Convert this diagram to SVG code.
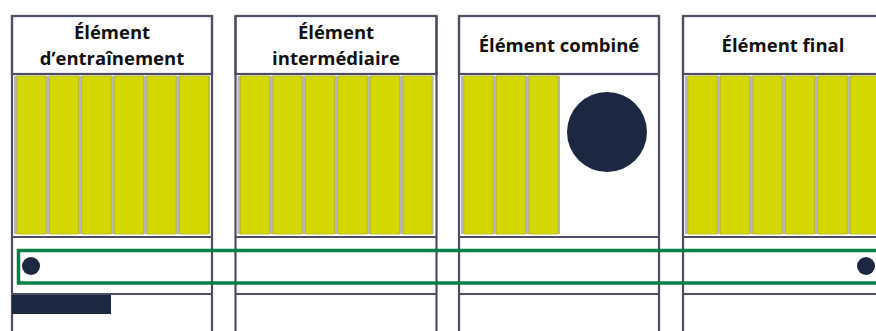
<svg xmlns="http://www.w3.org/2000/svg" width="876" height="331" viewBox="0 0 876 331">
  <defs>
    <style>
      .frame { fill: none; stroke: #4b4e66; stroke-width: 2.2; }
      .rule { stroke: #4b4e66; stroke-width: 2.2; }
      .head { fill: #ffffff; stroke: #4b4e66; stroke-width: 2.2; }
      .bay { fill: #b4b5c0; }
      .bar { fill: #d4d700; stroke: #b9bb10; stroke-width: 0.8; }
      .title { font-family: "Open Sans", "Noto Sans", "DejaVu Sans", sans-serif; font-weight: 700; font-size: 18.5px; fill: #111111; text-anchor: middle; }
      .dark { fill: #1c2841; }
      .band { fill: none; stroke: #00814a; stroke-width: 3.5; }
    </style>
    <!-- a column of six yellow bars, origin at the column's left edge / bar top -->
    <g id="bars6">
      <rect class="bay" x="2" y="0" width="196" height="158"/>
      <rect class="bar" x="5" y="0" width="29" height="158"/>
      <rect class="bar" x="37.5" y="0" width="29" height="158"/>
      <rect class="bar" x="70" y="0" width="29" height="158"/>
      <rect class="bar" x="102.5" y="0" width="29" height="158"/>
      <rect class="bar" x="135" y="0" width="29" height="158"/>
      <rect class="bar" x="167.5" y="0" width="29" height="158"/>
    </g>
  </defs>

  <rect width="876" height="331" fill="#ffffff"/>

  <!-- driving element -->
  <g id="element-entrainement">
    <use href="#bars6" x="12" y="76"/>
    <rect class="head" x="12" y="16" width="200" height="58"/>
    <text class="title" x="112" y="39">Élément</text>
    <text class="title" x="112" y="65">d’entraînement</text>
    <line class="rule" x1="12" y1="237" x2="212" y2="237"/>
    <line class="rule" x1="12" y1="294" x2="212" y2="294"/>
    <path class="frame" d="M12 16 V331 M212 16 V331"/>
    <rect class="dark" x="12" y="295" width="99" height="19"/>
    <circle class="dark" cx="31" cy="266" r="9"/>
  </g>

  <!-- intermediate element -->
  <g id="element-intermediaire">
    <use href="#bars6" x="235.5" y="76"/>
    <rect class="head" x="235.5" y="16" width="201" height="58"/>
    <text class="title" x="336" y="39">Élément</text>
    <text class="title" x="336" y="65">intermédiaire</text>
    <line class="rule" x1="235.5" y1="237" x2="436.5" y2="237"/>
    <line class="rule" x1="235.5" y1="294" x2="436.5" y2="294"/>
    <path class="frame" d="M235.5 16 V331 M436.5 16 V331"/>
  </g>

  <!-- combined element -->
  <g id="element-combine">
    <rect class="bay" x="461" y="76" width="99" height="158"/>
    <rect class="bar" x="464" y="76" width="29" height="158"/>
    <rect class="bar" x="496.5" y="76" width="29" height="158"/>
    <rect class="bar" x="529" y="76" width="29" height="158"/>
    <rect class="head" x="459" y="16" width="200" height="58"/>
    <text class="title" x="559" y="52">Élément combiné</text>
    <circle class="dark" cx="607" cy="132" r="40"/>
    <line class="rule" x1="459" y1="237" x2="659" y2="237"/>
    <line class="rule" x1="459" y1="294" x2="659" y2="294"/>
    <path class="frame" d="M459 16 V331 M659 16 V331"/>
  </g>

  <!-- final element -->
  <g id="element-final">
    <use href="#bars6" x="683" y="76"/>
    <rect class="head" x="683" y="16" width="200" height="58"/>
    <text class="title" x="783" y="52">Élément final</text>
    <line class="rule" x1="683" y1="237" x2="883" y2="237"/>
    <line class="rule" x1="683" y1="294" x2="883" y2="294"/>
    <path class="frame" d="M683 16 V331"/>
    <circle class="dark" cx="866" cy="266" r="9"/>
  </g>

  <!-- band running across all elements -->
  <g id="connectors">
    <rect class="band" x="18.5" y="250.5" width="880" height="32.5"/>
  </g>
</svg>
